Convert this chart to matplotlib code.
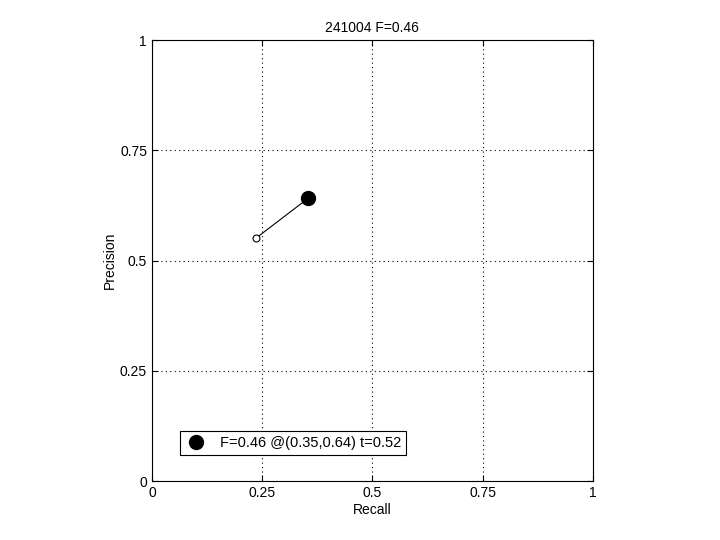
import matplotlib
matplotlib.use("Agg")
import matplotlib.pyplot as plt

plt.rcParams['font.family'] = ['Liberation Sans', 'DejaVu Sans']

recall = [0.236, 0.355]
precision = [0.551, 0.642]
best_r = 0.355
best_p = 0.642
title = "241004 F=0.46"
legend_label = "F=0.46 @(0.35,0.64) t=0.52"
ticks = [0, 0.25, 0.5, 0.75, 1]
tick_labels = ["0", "0.25", "0.5", "0.75", "1"]

fig = plt.figure(figsize=(7.2, 5.4), dpi=100)
ax = fig.add_axes([0.211, 0.109, 0.6125, 0.8167])

ax.plot(recall, precision, color='black', linewidth=0.8)
ax.plot(recall[0], precision[0], 'o', markerfacecolor='white', markeredgecolor='black',
        markersize=5, markeredgewidth=0.8)
ax.plot(best_r, best_p, 'o', color='black', markersize=10, label=legend_label)

ax.set_xlim(0, 1)
ax.set_ylim(0, 1)
ax.set_xticks(ticks)
ax.set_xticklabels(tick_labels)
ax.set_yticks(ticks)
ax.set_yticklabels(tick_labels)
ax.tick_params(direction='in', length=4, labelsize=10, top=True, right=True,
               labeltop=False, labelright=False)
ax.grid(True, linestyle=(0, (1, 3)), color='black', linewidth=0.8)
ax.set_xlabel("Recall", fontsize=10, labelpad=2)
ax.set_ylabel("Precision", fontsize=10, labelpad=2)
ax.set_title(title, fontsize=10)

leg = ax.legend(loc='lower left', bbox_to_anchor=(0.063, 0.059), fontsize=10.5,
                fancybox=False, framealpha=1, edgecolor='black',
                handlelength=1.6, borderpad=0.35, borderaxespad=0)
leg.get_frame().set_linewidth(0.8)

fig.savefig("out.png", dpi=100)
